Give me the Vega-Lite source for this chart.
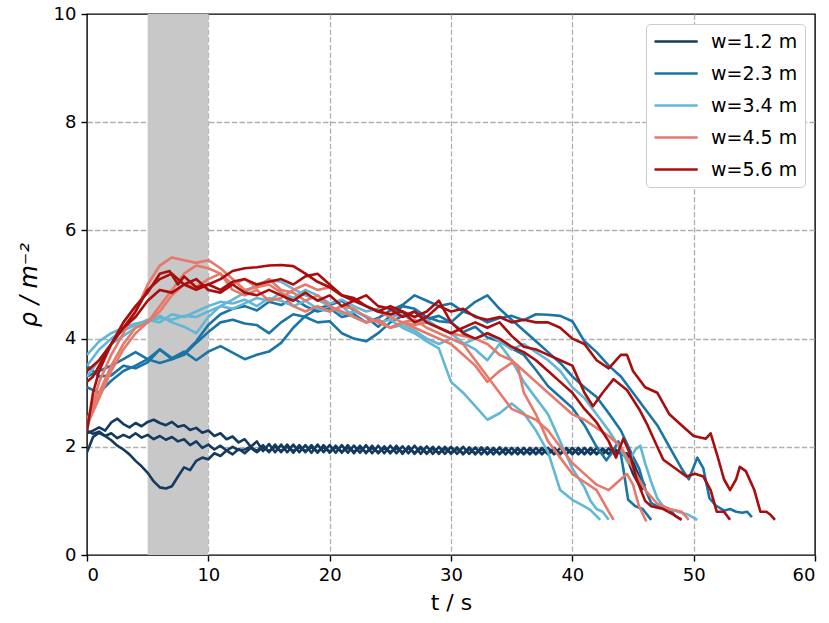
{
"$schema": "https://vega.github.io/schema/vega-lite/v6.json",
"width": 728, "height": 541,
"autosize": {"type": "none"},
"padding": {"left": 87, "top": 14, "right": 14, "bottom": 68},
"background": "white",
"config": {
 "view": {"stroke": "#000", "strokeWidth": 1.4},
 "axis": {"domain": false, "grid": true, "gridColor": "#b0b0b0", "gridDash": [5.3, 2.3], "gridWidth": 1.3, "tickColor": "#000", "tickSize": 6, "tickWidth": 1.4, "labelFont": "DejaVu Sans", "labelFontSize": 18, "labelColor": "#000", "labelPadding": 5, "titleFont": "DejaVu Sans", "titleFontSize": 22, "titleFontWeight": "normal", "titleColor": "#000"},
 "legend": {"labelFont": "DejaVu Sans"}
},
"datasets": {
 "band": [{"t0": 5, "t1": 10}],
 "runs": [
{"w":"w=1.2 m","run":"n1","t":0,"rho":2.25},{"w":"w=1.2 m","run":"n1","t":0.5,"rho":2.3},{"w":"w=1.2 m","run":"n1","t":1,"rho":2.36},{"w":"w=1.2 m","run":"n1","t":1.5,"rho":2.3},{"w":"w=1.2 m","run":"n1","t":2,"rho":2.45},{"w":"w=1.2 m","run":"n1","t":2.5,"rho":2.52},{"w":"w=1.2 m","run":"n1","t":3,"rho":2.42},{"w":"w=1.2 m","run":"n1","t":3.5,"rho":2.36},{"w":"w=1.2 m","run":"n1","t":4,"rho":2.44},{"w":"w=1.2 m","run":"n1","t":4.5,"rho":2.38},{"w":"w=1.2 m","run":"n1","t":5,"rho":2.46},{"w":"w=1.2 m","run":"n1","t":5.5,"rho":2.5},{"w":"w=1.2 m","run":"n1","t":6,"rho":2.44},{"w":"w=1.2 m","run":"n1","t":6.5,"rho":2.4},{"w":"w=1.2 m","run":"n1","t":7,"rho":2.46},{"w":"w=1.2 m","run":"n1","t":7.5,"rho":2.37},{"w":"w=1.2 m","run":"n1","t":8,"rho":2.4},{"w":"w=1.2 m","run":"n1","t":8.5,"rho":2.31},{"w":"w=1.2 m","run":"n1","t":9,"rho":2.35},{"w":"w=1.2 m","run":"n1","t":9.5,"rho":2.26},{"w":"w=1.2 m","run":"n1","t":10,"rho":2.3},{"w":"w=1.2 m","run":"n1","t":10.5,"rho":2.2},{"w":"w=1.2 m","run":"n1","t":11,"rho":2.25},{"w":"w=1.2 m","run":"n1","t":11.5,"rho":2.14},{"w":"w=1.2 m","run":"n1","t":12,"rho":2.19},{"w":"w=1.2 m","run":"n1","t":12.5,"rho":2.08},{"w":"w=1.2 m","run":"n1","t":13,"rho":2.14},{"w":"w=1.2 m","run":"n1","t":13.5,"rho":2.0},{"w":"w=1.2 m","run":"n1","t":14,"rho":2.1},{"w":"w=1.2 m","run":"n1","t":14.5,"rho":1.92},
{"w":"w=1.2 m","run":"n1","t":15,"rho":2.05},{"w":"w=1.2 m","run":"n1","t":15.5,"rho":1.9},{"w":"w=1.2 m","run":"n1","t":16,"rho":2.04},{"w":"w=1.2 m","run":"n1","t":16.5,"rho":1.9},{"w":"w=1.2 m","run":"n1","t":17,"rho":2.04},{"w":"w=1.2 m","run":"n1","t":17.5,"rho":1.9},{"w":"w=1.2 m","run":"n1","t":18,"rho":2.03},{"w":"w=1.2 m","run":"n1","t":18.5,"rho":1.89},{"w":"w=1.2 m","run":"n1","t":19,"rho":2.04},{"w":"w=1.2 m","run":"n1","t":19.5,"rho":1.9},{"w":"w=1.2 m","run":"n1","t":20,"rho":2.03},{"w":"w=1.2 m","run":"n1","t":20.5,"rho":1.89},{"w":"w=1.2 m","run":"n1","t":21,"rho":2.03},{"w":"w=1.2 m","run":"n1","t":21.5,"rho":1.89},{"w":"w=1.2 m","run":"n1","t":22,"rho":2.02},{"w":"w=1.2 m","run":"n1","t":22.5,"rho":1.89},{"w":"w=1.2 m","run":"n1","t":23,"rho":2.03},{"w":"w=1.2 m","run":"n1","t":23.5,"rho":1.88},{"w":"w=1.2 m","run":"n1","t":24,"rho":2.02},{"w":"w=1.2 m","run":"n1","t":24.5,"rho":1.88},{"w":"w=1.2 m","run":"n1","t":25,"rho":2.02},{"w":"w=1.2 m","run":"n1","t":25.5,"rho":1.88},{"w":"w=1.2 m","run":"n1","t":26,"rho":2.01},{"w":"w=1.2 m","run":"n1","t":26.5,"rho":1.88},{"w":"w=1.2 m","run":"n1","t":27,"rho":2.02},{"w":"w=1.2 m","run":"n1","t":27.5,"rho":1.87},{"w":"w=1.2 m","run":"n1","t":28,"rho":2.01},{"w":"w=1.2 m","run":"n1","t":28.5,"rho":1.87},{"w":"w=1.2 m","run":"n1","t":29,"rho":2.0},{"w":"w=1.2 m","run":"n1","t":29.5,"rho":1.87},{"w":"w=1.2 m","run":"n1","t":30,"rho":2.0},{"w":"w=1.2 m","run":"n1","t":30.5,"rho":1.87},{"w":"w=1.2 m","run":"n1","t":31,"rho":2.0},{"w":"w=1.2 m","run":"n1","t":31.5,"rho":1.87},{"w":"w=1.2 m","run":"n1","t":32,"rho":1.99},{"w":"w=1.2 m","run":"n1","t":32.5,"rho":1.86},{"w":"w=1.2 m","run":"n1","t":33,"rho":1.99},{"w":"w=1.2 m","run":"n1","t":33.5,"rho":1.86},{"w":"w=1.2 m","run":"n1","t":34,"rho":1.99},{"w":"w=1.2 m","run":"n1","t":34.5,"rho":1.86},{"w":"w=1.2 m","run":"n1","t":35,"rho":1.98},{"w":"w=1.2 m","run":"n1","t":35.5,"rho":1.86},{"w":"w=1.2 m","run":"n1","t":36,"rho":1.98},{"w":"w=1.2 m","run":"n1","t":36.5,"rho":1.86},{"w":"w=1.2 m","run":"n1","t":37,"rho":1.98},{"w":"w=1.2 m","run":"n1","t":37.5,"rho":1.86},{"w":"w=1.2 m","run":"n1","t":38,"rho":1.98},{"w":"w=1.2 m","run":"n1","t":38.5,"rho":1.86},{"w":"w=1.2 m","run":"n1","t":39,"rho":1.98},{"w":"w=1.2 m","run":"n1","t":39.5,"rho":1.86},{"w":"w=1.2 m","run":"n1","t":40,"rho":1.98},{"w":"w=1.2 m","run":"n1","t":40.5,"rho":1.86},{"w":"w=1.2 m","run":"n1","t":41,"rho":1.98},{"w":"w=1.2 m","run":"n1","t":41.5,"rho":1.86},{"w":"w=1.2 m","run":"n1","t":42,"rho":1.98},{"w":"w=1.2 m","run":"n1","t":42.5,"rho":1.86},{"w":"w=1.2 m","run":"n1","t":43,"rho":1.97},{"w":"w=1.2 m","run":"n1","t":43.5,"rho":1.86},{"w":"w=1.2 m","run":"n1","t":44,"rho":1.95},{"w":"w=1.2 m","run":"n1","t":44.5,"rho":1.82},{"w":"w=1.2 m","run":"n1","t":45,"rho":1.6},{"w":"w=1.2 m","run":"n1","t":45.5,"rho":1.38},{"w":"w=1.2 m","run":"n1","t":46,"rho":1.22},
{"w":"w=1.2 m","run":"n2","t":0,"rho":2.3},{"w":"w=1.2 m","run":"n2","t":0.5,"rho":2.24},{"w":"w=1.2 m","run":"n2","t":1,"rho":2.28},{"w":"w=1.2 m","run":"n2","t":1.5,"rho":2.2},{"w":"w=1.2 m","run":"n2","t":2,"rho":2.25},{"w":"w=1.2 m","run":"n2","t":2.5,"rho":2.16},{"w":"w=1.2 m","run":"n2","t":3,"rho":2.22},{"w":"w=1.2 m","run":"n2","t":3.5,"rho":2.17},{"w":"w=1.2 m","run":"n2","t":4,"rho":2.25},{"w":"w=1.2 m","run":"n2","t":4.5,"rho":2.17},{"w":"w=1.2 m","run":"n2","t":5,"rho":2.22},{"w":"w=1.2 m","run":"n2","t":5.5,"rho":2.14},{"w":"w=1.2 m","run":"n2","t":6,"rho":2.2},{"w":"w=1.2 m","run":"n2","t":6.5,"rho":2.13},{"w":"w=1.2 m","run":"n2","t":7,"rho":2.18},{"w":"w=1.2 m","run":"n2","t":7.5,"rho":2.1},{"w":"w=1.2 m","run":"n2","t":8,"rho":2.14},{"w":"w=1.2 m","run":"n2","t":8.5,"rho":2.03},{"w":"w=1.2 m","run":"n2","t":9,"rho":2.1},{"w":"w=1.2 m","run":"n2","t":9.5,"rho":1.98},{"w":"w=1.2 m","run":"n2","t":10,"rho":2.04},{"w":"w=1.2 m","run":"n2","t":10.5,"rho":1.95},{"w":"w=1.2 m","run":"n2","t":11,"rho":2.02},{"w":"w=1.2 m","run":"n2","t":11.5,"rho":1.93},{"w":"w=1.2 m","run":"n2","t":12,"rho":2.0},{"w":"w=1.2 m","run":"n2","t":12.5,"rho":1.94},{"w":"w=1.2 m","run":"n2","t":13,"rho":1.95},{"w":"w=1.2 m","run":"n2","t":13.5,"rho":2.0},{"w":"w=1.2 m","run":"n2","t":14,"rho":1.92},{"w":"w=1.2 m","run":"n2","t":14.5,"rho":2.03},
{"w":"w=1.2 m","run":"n2","t":15,"rho":1.9},{"w":"w=1.2 m","run":"n2","t":15.5,"rho":2.04},{"w":"w=1.2 m","run":"n2","t":16,"rho":1.9},{"w":"w=1.2 m","run":"n2","t":16.5,"rho":2.04},{"w":"w=1.2 m","run":"n2","t":17,"rho":1.89},{"w":"w=1.2 m","run":"n2","t":17.5,"rho":2.03},{"w":"w=1.2 m","run":"n2","t":18,"rho":1.9},{"w":"w=1.2 m","run":"n2","t":18.5,"rho":2.03},{"w":"w=1.2 m","run":"n2","t":19,"rho":1.89},{"w":"w=1.2 m","run":"n2","t":19.5,"rho":2.03},{"w":"w=1.2 m","run":"n2","t":20,"rho":1.89},{"w":"w=1.2 m","run":"n2","t":20.5,"rho":2.02},{"w":"w=1.2 m","run":"n2","t":21,"rho":1.89},{"w":"w=1.2 m","run":"n2","t":21.5,"rho":2.03},{"w":"w=1.2 m","run":"n2","t":22,"rho":1.88},{"w":"w=1.2 m","run":"n2","t":22.5,"rho":2.02},{"w":"w=1.2 m","run":"n2","t":23,"rho":1.88},{"w":"w=1.2 m","run":"n2","t":23.5,"rho":2.02},{"w":"w=1.2 m","run":"n2","t":24,"rho":1.88},{"w":"w=1.2 m","run":"n2","t":24.5,"rho":2.01},{"w":"w=1.2 m","run":"n2","t":25,"rho":1.88},{"w":"w=1.2 m","run":"n2","t":25.5,"rho":2.02},{"w":"w=1.2 m","run":"n2","t":26,"rho":1.87},{"w":"w=1.2 m","run":"n2","t":26.5,"rho":2.01},{"w":"w=1.2 m","run":"n2","t":27,"rho":1.87},{"w":"w=1.2 m","run":"n2","t":27.5,"rho":2.0},{"w":"w=1.2 m","run":"n2","t":28,"rho":1.87},{"w":"w=1.2 m","run":"n2","t":28.5,"rho":2.0},{"w":"w=1.2 m","run":"n2","t":29,"rho":1.87},{"w":"w=1.2 m","run":"n2","t":29.5,"rho":2.0},{"w":"w=1.2 m","run":"n2","t":30,"rho":1.87},{"w":"w=1.2 m","run":"n2","t":30.5,"rho":1.99},{"w":"w=1.2 m","run":"n2","t":31,"rho":1.86},{"w":"w=1.2 m","run":"n2","t":31.5,"rho":1.99},{"w":"w=1.2 m","run":"n2","t":32,"rho":1.86},{"w":"w=1.2 m","run":"n2","t":32.5,"rho":1.99},{"w":"w=1.2 m","run":"n2","t":33,"rho":1.86},{"w":"w=1.2 m","run":"n2","t":33.5,"rho":1.98},{"w":"w=1.2 m","run":"n2","t":34,"rho":1.86},{"w":"w=1.2 m","run":"n2","t":34.5,"rho":1.98},{"w":"w=1.2 m","run":"n2","t":35,"rho":1.86},{"w":"w=1.2 m","run":"n2","t":35.5,"rho":1.98},{"w":"w=1.2 m","run":"n2","t":36,"rho":1.86},{"w":"w=1.2 m","run":"n2","t":36.5,"rho":1.98},{"w":"w=1.2 m","run":"n2","t":37,"rho":1.86},{"w":"w=1.2 m","run":"n2","t":37.5,"rho":1.98},{"w":"w=1.2 m","run":"n2","t":38,"rho":1.86},{"w":"w=1.2 m","run":"n2","t":38.5,"rho":1.98},{"w":"w=1.2 m","run":"n2","t":39,"rho":1.86},{"w":"w=1.2 m","run":"n2","t":39.5,"rho":1.98},{"w":"w=1.2 m","run":"n2","t":40,"rho":1.86},{"w":"w=1.2 m","run":"n2","t":40.5,"rho":1.98},{"w":"w=1.2 m","run":"n2","t":41,"rho":1.86},{"w":"w=1.2 m","run":"n2","t":41.5,"rho":1.98},{"w":"w=1.2 m","run":"n2","t":42,"rho":1.86},{"w":"w=1.2 m","run":"n2","t":42.5,"rho":1.97},{"w":"w=1.2 m","run":"n2","t":43,"rho":1.86},{"w":"w=1.2 m","run":"n2","t":43.5,"rho":1.96},{"w":"w=1.2 m","run":"n2","t":44,"rho":1.87},{"w":"w=1.2 m","run":"n2","t":44.5,"rho":1.88},{"w":"w=1.2 m","run":"n2","t":45,"rho":1.72},{"w":"w=1.2 m","run":"n2","t":45.5,"rho":1.45},{"w":"w=1.2 m","run":"n2","t":46,"rho":1.28},
{"w":"w=1.2 m","run":"n3","t":0,"rho":1.9},{"w":"w=1.2 m","run":"n3","t":0.5,"rho":2.18},{"w":"w=1.2 m","run":"n3","t":1,"rho":2.26},{"w":"w=1.2 m","run":"n3","t":1.5,"rho":2.2},{"w":"w=1.2 m","run":"n3","t":2,"rho":2.12},{"w":"w=1.2 m","run":"n3","t":2.5,"rho":2.02},{"w":"w=1.2 m","run":"n3","t":3,"rho":1.95},{"w":"w=1.2 m","run":"n3","t":3.5,"rho":1.86},{"w":"w=1.2 m","run":"n3","t":4,"rho":1.74},{"w":"w=1.2 m","run":"n3","t":4.5,"rho":1.64},{"w":"w=1.2 m","run":"n3","t":5,"rho":1.52},{"w":"w=1.2 m","run":"n3","t":5.5,"rho":1.36},{"w":"w=1.2 m","run":"n3","t":6,"rho":1.25},{"w":"w=1.2 m","run":"n3","t":6.5,"rho":1.23},{"w":"w=1.2 m","run":"n3","t":7,"rho":1.27},{"w":"w=1.2 m","run":"n3","t":7.5,"rho":1.45},{"w":"w=1.2 m","run":"n3","t":8,"rho":1.62},{"w":"w=1.2 m","run":"n3","t":8.5,"rho":1.57},{"w":"w=1.2 m","run":"n3","t":9,"rho":1.74},{"w":"w=1.2 m","run":"n3","t":9.5,"rho":1.8},{"w":"w=1.2 m","run":"n3","t":10,"rho":1.77},{"w":"w=1.2 m","run":"n3","t":10.5,"rho":1.88},{"w":"w=1.2 m","run":"n3","t":11,"rho":1.83},{"w":"w=1.2 m","run":"n3","t":11.5,"rho":1.93},{"w":"w=1.2 m","run":"n3","t":12,"rho":1.86},{"w":"w=1.2 m","run":"n3","t":12.5,"rho":1.96},{"w":"w=1.2 m","run":"n3","t":13,"rho":1.88},{"w":"w=1.2 m","run":"n3","t":13.5,"rho":1.98},{"w":"w=1.2 m","run":"n3","t":14,"rho":1.9},{"w":"w=1.2 m","run":"n3","t":14.5,"rho":1.99},
{"w":"w=1.2 m","run":"n3","t":15,"rho":1.92},{"w":"w=1.2 m","run":"n3","t":15.5,"rho":2.0},{"w":"w=1.2 m","run":"n3","t":16,"rho":1.92},{"w":"w=1.2 m","run":"n3","t":16.5,"rho":2.0},{"w":"w=1.2 m","run":"n3","t":17,"rho":1.92},{"w":"w=1.2 m","run":"n3","t":17.5,"rho":1.99},{"w":"w=1.2 m","run":"n3","t":18,"rho":1.92},{"w":"w=1.2 m","run":"n3","t":18.5,"rho":1.99},{"w":"w=1.2 m","run":"n3","t":19,"rho":1.91},{"w":"w=1.2 m","run":"n3","t":19.5,"rho":1.99},{"w":"w=1.2 m","run":"n3","t":20,"rho":1.91},{"w":"w=1.2 m","run":"n3","t":20.5,"rho":1.99},{"w":"w=1.2 m","run":"n3","t":21,"rho":1.91},{"w":"w=1.2 m","run":"n3","t":21.5,"rho":1.98},{"w":"w=1.2 m","run":"n3","t":22,"rho":1.91},{"w":"w=1.2 m","run":"n3","t":22.5,"rho":1.98},{"w":"w=1.2 m","run":"n3","t":23,"rho":1.9},{"w":"w=1.2 m","run":"n3","t":23.5,"rho":1.98},{"w":"w=1.2 m","run":"n3","t":24,"rho":1.9},{"w":"w=1.2 m","run":"n3","t":24.5,"rho":1.97},{"w":"w=1.2 m","run":"n3","t":25,"rho":1.9},{"w":"w=1.2 m","run":"n3","t":25.5,"rho":1.97},{"w":"w=1.2 m","run":"n3","t":26,"rho":1.9},{"w":"w=1.2 m","run":"n3","t":26.5,"rho":1.97},{"w":"w=1.2 m","run":"n3","t":27,"rho":1.89},{"w":"w=1.2 m","run":"n3","t":27.5,"rho":1.97},{"w":"w=1.2 m","run":"n3","t":28,"rho":1.89},{"w":"w=1.2 m","run":"n3","t":28.5,"rho":1.96},{"w":"w=1.2 m","run":"n3","t":29,"rho":1.89},{"w":"w=1.2 m","run":"n3","t":29.5,"rho":1.96},{"w":"w=1.2 m","run":"n3","t":30,"rho":1.89},{"w":"w=1.2 m","run":"n3","t":30.5,"rho":1.96},{"w":"w=1.2 m","run":"n3","t":31,"rho":1.88},{"w":"w=1.2 m","run":"n3","t":31.5,"rho":1.96},{"w":"w=1.2 m","run":"n3","t":32,"rho":1.88},{"w":"w=1.2 m","run":"n3","t":32.5,"rho":1.96},{"w":"w=1.2 m","run":"n3","t":33,"rho":1.88},{"w":"w=1.2 m","run":"n3","t":33.5,"rho":1.95},{"w":"w=1.2 m","run":"n3","t":34,"rho":1.88},{"w":"w=1.2 m","run":"n3","t":34.5,"rho":1.95},{"w":"w=1.2 m","run":"n3","t":35,"rho":1.88},{"w":"w=1.2 m","run":"n3","t":35.5,"rho":1.95},{"w":"w=1.2 m","run":"n3","t":36,"rho":1.88},{"w":"w=1.2 m","run":"n3","t":36.5,"rho":1.95},{"w":"w=1.2 m","run":"n3","t":37,"rho":1.88},{"w":"w=1.2 m","run":"n3","t":37.5,"rho":1.95},{"w":"w=1.2 m","run":"n3","t":38,"rho":1.88},{"w":"w=1.2 m","run":"n3","t":38.5,"rho":1.95},{"w":"w=1.2 m","run":"n3","t":39,"rho":1.88},{"w":"w=1.2 m","run":"n3","t":39.5,"rho":1.95},{"w":"w=1.2 m","run":"n3","t":40,"rho":1.88},{"w":"w=1.2 m","run":"n3","t":40.5,"rho":1.95},{"w":"w=1.2 m","run":"n3","t":41,"rho":1.88},{"w":"w=1.2 m","run":"n3","t":41.5,"rho":1.95},{"w":"w=1.2 m","run":"n3","t":42,"rho":1.88},{"w":"w=1.2 m","run":"n3","t":42.5,"rho":1.94},{"w":"w=1.2 m","run":"n3","t":43,"rho":1.88},{"w":"w=1.2 m","run":"n3","t":43.5,"rho":1.94},{"w":"w=1.2 m","run":"n3","t":44,"rho":1.88},{"w":"w=1.2 m","run":"n3","t":44.5,"rho":1.8},{"w":"w=1.2 m","run":"n3","t":45,"rho":1.5},{"w":"w=1.2 m","run":"n3","t":45.5,"rho":1.3},{"w":"w=1.2 m","run":"n3","t":45.8,"rho":1.2},

{"w":"w=2.3 m","run":"b1","t":0,"rho":3.3},{"w":"w=2.3 m","run":"b1","t":1,"rho":3.4},{"w":"w=2.3 m","run":"b1","t":2,"rho":3.5},{"w":"w=2.3 m","run":"b1","t":3,"rho":3.62},{"w":"w=2.3 m","run":"b1","t":4,"rho":3.75},{"w":"w=2.3 m","run":"b1","t":5,"rho":3.62},{"w":"w=2.3 m","run":"b1","t":6,"rho":3.8},{"w":"w=2.3 m","run":"b1","t":7,"rho":3.62},{"w":"w=2.3 m","run":"b1","t":8,"rho":3.72},{"w":"w=2.3 m","run":"b1","t":9,"rho":3.95},{"w":"w=2.3 m","run":"b1","t":10,"rho":4.25},{"w":"w=2.3 m","run":"b1","t":11,"rho":4.45},{"w":"w=2.3 m","run":"b1","t":12,"rho":4.55},{"w":"w=2.3 m","run":"b1","t":13,"rho":4.6},{"w":"w=2.3 m","run":"b1","t":14,"rho":4.52},{"w":"w=2.3 m","run":"b1","t":15,"rho":4.68},{"w":"w=2.3 m","run":"b1","t":16,"rho":4.62},{"w":"w=2.3 m","run":"b1","t":17,"rho":4.75},{"w":"w=2.3 m","run":"b1","t":18,"rho":4.6},{"w":"w=2.3 m","run":"b1","t":19,"rho":4.5},{"w":"w=2.3 m","run":"b1","t":20,"rho":4.56},{"w":"w=2.3 m","run":"b1","t":21,"rho":4.4},{"w":"w=2.3 m","run":"b1","t":22,"rho":4.45},{"w":"w=2.3 m","run":"b1","t":23,"rho":4.3},{"w":"w=2.3 m","run":"b1","t":24,"rho":4.38},{"w":"w=2.3 m","run":"b1","t":25,"rho":4.52},{"w":"w=2.3 m","run":"b1","t":26,"rho":4.62},{"w":"w=2.3 m","run":"b1","t":27,"rho":4.8},{"w":"w=2.3 m","run":"b1","t":28,"rho":4.7},{"w":"w=2.3 m","run":"b1","t":29,"rho":4.6},{"w":"w=2.3 m","run":"b1","t":30,"rho":4.65},{"w":"w=2.3 m","run":"b1","t":31,"rho":4.5},{"w":"w=2.3 m","run":"b1","t":32,"rho":4.42},{"w":"w=2.3 m","run":"b1","t":33,"rho":4.3},{"w":"w=2.3 m","run":"b1","t":34,"rho":4.38},{"w":"w=2.3 m","run":"b1","t":35,"rho":4.42},{"w":"w=2.3 m","run":"b1","t":36,"rho":4.34},{"w":"w=2.3 m","run":"b1","t":37,"rho":4.45},{"w":"w=2.3 m","run":"b1","t":38,"rho":4.44},{"w":"w=2.3 m","run":"b1","t":39,"rho":4.42},{"w":"w=2.3 m","run":"b1","t":40,"rho":4.32},{"w":"w=2.3 m","run":"b1","t":41,"rho":3.95},{"w":"w=2.3 m","run":"b1","t":42,"rho":3.75},{"w":"w=2.3 m","run":"b1","t":43,"rho":3.5},{"w":"w=2.3 m","run":"b1","t":44,"rho":3.3},{"w":"w=2.3 m","run":"b1","t":45,"rho":3.0},{"w":"w=2.3 m","run":"b1","t":46,"rho":2.7},{"w":"w=2.3 m","run":"b1","t":47,"rho":2.4},{"w":"w=2.3 m","run":"b1","t":48,"rho":2.0},{"w":"w=2.3 m","run":"b1","t":49,"rho":1.6},{"w":"w=2.3 m","run":"b1","t":49.6,"rho":1.4},{"w":"w=2.3 m","run":"b1","t":50.3,"rho":1.8},{"w":"w=2.3 m","run":"b1","t":50.8,"rho":1.6},{"w":"w=2.3 m","run":"b1","t":51.3,"rho":1.05},{"w":"w=2.3 m","run":"b1","t":51.8,"rho":0.92},{"w":"w=2.3 m","run":"b1","t":52.5,"rho":0.82},{"w":"w=2.3 m","run":"b1","t":53,"rho":0.85},{"w":"w=2.3 m","run":"b1","t":53.5,"rho":0.8},{"w":"w=2.3 m","run":"b1","t":54,"rho":0.78},{"w":"w=2.3 m","run":"b1","t":54.4,"rho":0.8},{"w":"w=2.3 m","run":"b1","t":54.8,"rho":0.7},
{"w":"w=2.3 m","run":"b2","t":0,"rho":3.5},{"w":"w=2.3 m","run":"b2","t":1,"rho":3.3},{"w":"w=2.3 m","run":"b2","t":2,"rho":3.32},{"w":"w=2.3 m","run":"b2","t":3,"rho":3.5},{"w":"w=2.3 m","run":"b2","t":4,"rho":3.45},{"w":"w=2.3 m","run":"b2","t":5,"rho":3.56},{"w":"w=2.3 m","run":"b2","t":6,"rho":3.8},{"w":"w=2.3 m","run":"b2","t":7,"rho":3.64},{"w":"w=2.3 m","run":"b2","t":8,"rho":3.76},{"w":"w=2.3 m","run":"b2","t":9,"rho":3.6},{"w":"w=2.3 m","run":"b2","t":10,"rho":3.76},{"w":"w=2.3 m","run":"b2","t":11,"rho":3.86},{"w":"w=2.3 m","run":"b2","t":12,"rho":3.74},{"w":"w=2.3 m","run":"b2","t":13,"rho":3.62},{"w":"w=2.3 m","run":"b2","t":14,"rho":3.7},{"w":"w=2.3 m","run":"b2","t":15,"rho":3.76},{"w":"w=2.3 m","run":"b2","t":16,"rho":3.92},{"w":"w=2.3 m","run":"b2","t":17,"rho":4.2},{"w":"w=2.3 m","run":"b2","t":18,"rho":4.42},{"w":"w=2.3 m","run":"b2","t":19,"rho":4.55},{"w":"w=2.3 m","run":"b2","t":20,"rho":4.62},{"w":"w=2.3 m","run":"b2","t":21,"rho":4.7},{"w":"w=2.3 m","run":"b2","t":22,"rho":4.52},{"w":"w=2.3 m","run":"b2","t":23,"rho":4.4},{"w":"w=2.3 m","run":"b2","t":24,"rho":4.22},{"w":"w=2.3 m","run":"b2","t":25,"rho":4.42},{"w":"w=2.3 m","run":"b2","t":26,"rho":4.6},{"w":"w=2.3 m","run":"b2","t":27,"rho":4.55},{"w":"w=2.3 m","run":"b2","t":28,"rho":4.4},{"w":"w=2.3 m","run":"b2","t":29,"rho":4.32},{"w":"w=2.3 m","run":"b2","t":30,"rho":4.3},{"w":"w=2.3 m","run":"b2","t":31,"rho":4.12},{"w":"w=2.3 m","run":"b2","t":32,"rho":4.22},{"w":"w=2.3 m","run":"b2","t":33,"rho":4.02},{"w":"w=2.3 m","run":"b2","t":34,"rho":3.95},{"w":"w=2.3 m","run":"b2","t":35,"rho":3.82},{"w":"w=2.3 m","run":"b2","t":36,"rho":3.7},{"w":"w=2.3 m","run":"b2","t":37,"rho":3.42},{"w":"w=2.3 m","run":"b2","t":38,"rho":3.12},{"w":"w=2.3 m","run":"b2","t":39,"rho":2.92},{"w":"w=2.3 m","run":"b2","t":40,"rho":2.72},{"w":"w=2.3 m","run":"b2","t":41,"rho":2.4},{"w":"w=2.3 m","run":"b2","t":42,"rho":2.0},{"w":"w=2.3 m","run":"b2","t":42.8,"rho":1.75},{"w":"w=2.3 m","run":"b2","t":43.3,"rho":1.9},{"w":"w=2.3 m","run":"b2","t":43.8,"rho":2.1},{"w":"w=2.3 m","run":"b2","t":44.2,"rho":1.6},{"w":"w=2.3 m","run":"b2","t":44.6,"rho":1.02},{"w":"w=2.3 m","run":"b2","t":45.2,"rho":0.9},{"w":"w=2.3 m","run":"b2","t":45.8,"rho":0.85},{"w":"w=2.3 m","run":"b2","t":46.5,"rho":0.65},
{"w":"w=2.3 m","run":"b3","t":0,"rho":3.1},{"w":"w=2.3 m","run":"b3","t":1,"rho":3.0},{"w":"w=2.3 m","run":"b3","t":2,"rho":3.22},{"w":"w=2.3 m","run":"b3","t":3,"rho":3.4},{"w":"w=2.3 m","run":"b3","t":4,"rho":3.5},{"w":"w=2.3 m","run":"b3","t":5,"rho":3.62},{"w":"w=2.3 m","run":"b3","t":6,"rho":3.55},{"w":"w=2.3 m","run":"b3","t":7,"rho":3.62},{"w":"w=2.3 m","run":"b3","t":8,"rho":3.7},{"w":"w=2.3 m","run":"b3","t":9,"rho":3.92},{"w":"w=2.3 m","run":"b3","t":10,"rho":4.12},{"w":"w=2.3 m","run":"b3","t":11,"rho":4.3},{"w":"w=2.3 m","run":"b3","t":12,"rho":4.35},{"w":"w=2.3 m","run":"b3","t":13,"rho":4.28},{"w":"w=2.3 m","run":"b3","t":14,"rho":4.25},{"w":"w=2.3 m","run":"b3","t":15,"rho":4.1},{"w":"w=2.3 m","run":"b3","t":16,"rho":4.3},{"w":"w=2.3 m","run":"b3","t":17,"rho":4.45},{"w":"w=2.3 m","run":"b3","t":18,"rho":4.4},{"w":"w=2.3 m","run":"b3","t":19,"rho":4.3},{"w":"w=2.3 m","run":"b3","t":20,"rho":4.32},{"w":"w=2.3 m","run":"b3","t":21,"rho":4.1},{"w":"w=2.3 m","run":"b3","t":22,"rho":4.0},{"w":"w=2.3 m","run":"b3","t":23,"rho":3.95},{"w":"w=2.3 m","run":"b3","t":24,"rho":4.1},{"w":"w=2.3 m","run":"b3","t":25,"rho":4.3},{"w":"w=2.3 m","run":"b3","t":26,"rho":4.42},{"w":"w=2.3 m","run":"b3","t":27,"rho":4.5},{"w":"w=2.3 m","run":"b3","t":28,"rho":4.36},{"w":"w=2.3 m","run":"b3","t":29,"rho":4.42},{"w":"w=2.3 m","run":"b3","t":30,"rho":4.3},{"w":"w=2.3 m","run":"b3","t":31,"rho":4.5},{"w":"w=2.3 m","run":"b3","t":32,"rho":4.68},{"w":"w=2.3 m","run":"b3","t":33,"rho":4.8},{"w":"w=2.3 m","run":"b3","t":34,"rho":4.55},{"w":"w=2.3 m","run":"b3","t":35,"rho":4.35},{"w":"w=2.3 m","run":"b3","t":36,"rho":4.15},{"w":"w=2.3 m","run":"b3","t":37,"rho":3.95},{"w":"w=2.3 m","run":"b3","t":38,"rho":3.75},{"w":"w=2.3 m","run":"b3","t":39,"rho":3.55},{"w":"w=2.3 m","run":"b3","t":40,"rho":3.3},{"w":"w=2.3 m","run":"b3","t":41,"rho":3.1},{"w":"w=2.3 m","run":"b3","t":42,"rho":2.92},{"w":"w=2.3 m","run":"b3","t":43,"rho":2.62},{"w":"w=2.3 m","run":"b3","t":44,"rho":2.3},{"w":"w=2.3 m","run":"b3","t":45,"rho":1.82},{"w":"w=2.3 m","run":"b3","t":45.5,"rho":1.6},{"w":"w=2.3 m","run":"b3","t":46,"rho":1.22},{"w":"w=2.3 m","run":"b3","t":46.5,"rho":0.96},{"w":"w=2.3 m","run":"b3","t":47,"rho":0.9},{"w":"w=2.3 m","run":"b3","t":48,"rho":0.85},{"w":"w=2.3 m","run":"b3","t":48.5,"rho":0.72},{"w":"w=2.3 m","run":"b3","t":49,"rho":0.66},

{"w":"w=3.4 m","run":"l1","t":0,"rho":3.7},{"w":"w=3.4 m","run":"l1","t":1,"rho":3.95},{"w":"w=3.4 m","run":"l1","t":2,"rho":4.1},{"w":"w=3.4 m","run":"l1","t":3,"rho":4.2},{"w":"w=3.4 m","run":"l1","t":4,"rho":4.28},{"w":"w=3.4 m","run":"l1","t":5,"rho":4.32},{"w":"w=3.4 m","run":"l1","t":6,"rho":4.38},{"w":"w=3.4 m","run":"l1","t":7,"rho":4.35},{"w":"w=3.4 m","run":"l1","t":8,"rho":4.42},{"w":"w=3.4 m","run":"l1","t":9,"rho":4.4},{"w":"w=3.4 m","run":"l1","t":10,"rho":4.5},{"w":"w=3.4 m","run":"l1","t":11,"rho":4.6},{"w":"w=3.4 m","run":"l1","t":12,"rho":4.72},{"w":"w=3.4 m","run":"l1","t":13,"rho":4.85},{"w":"w=3.4 m","run":"l1","t":14,"rho":5.0},{"w":"w=3.4 m","run":"l1","t":15,"rho":5.08},{"w":"w=3.4 m","run":"l1","t":16,"rho":5.05},{"w":"w=3.4 m","run":"l1","t":17,"rho":4.92},{"w":"w=3.4 m","run":"l1","t":18,"rho":4.8},{"w":"w=3.4 m","run":"l1","t":19,"rho":4.72},{"w":"w=3.4 m","run":"l1","t":20,"rho":4.6},{"w":"w=3.4 m","run":"l1","t":21,"rho":4.45},{"w":"w=3.4 m","run":"l1","t":22,"rho":4.5},{"w":"w=3.4 m","run":"l1","t":23,"rho":4.42},{"w":"w=3.4 m","run":"l1","t":24,"rho":4.3},{"w":"w=3.4 m","run":"l1","t":25,"rho":4.35},{"w":"w=3.4 m","run":"l1","t":26,"rho":4.2},{"w":"w=3.4 m","run":"l1","t":27,"rho":4.1},{"w":"w=3.4 m","run":"l1","t":28,"rho":3.95},{"w":"w=3.4 m","run":"l1","t":29,"rho":3.82},{"w":"w=3.4 m","run":"l1","t":30,"rho":3.2},{"w":"w=3.4 m","run":"l1","t":31,"rho":3.0},{"w":"w=3.4 m","run":"l1","t":32,"rho":2.75},{"w":"w=3.4 m","run":"l1","t":33,"rho":2.5},{"w":"w=3.4 m","run":"l1","t":34,"rho":2.62},{"w":"w=3.4 m","run":"l1","t":35,"rho":2.8},{"w":"w=3.4 m","run":"l1","t":36,"rho":2.62},{"w":"w=3.4 m","run":"l1","t":37,"rho":2.3},{"w":"w=3.4 m","run":"l1","t":38,"rho":1.9},{"w":"w=3.4 m","run":"l1","t":39,"rho":1.2},{"w":"w=3.4 m","run":"l1","t":40,"rho":1.02},{"w":"w=3.4 m","run":"l1","t":41,"rho":0.9},{"w":"w=3.4 m","run":"l1","t":41.5,"rho":0.83},{"w":"w=3.4 m","run":"l1","t":42.3,"rho":0.65},
{"w":"w=3.4 m","run":"l2","t":0,"rho":3.3},{"w":"w=3.4 m","run":"l2","t":1,"rho":3.6},{"w":"w=3.4 m","run":"l2","t":2,"rho":3.9},{"w":"w=3.4 m","run":"l2","t":3,"rho":4.05},{"w":"w=3.4 m","run":"l2","t":4,"rho":4.2},{"w":"w=3.4 m","run":"l2","t":5,"rho":4.3},{"w":"w=3.4 m","run":"l2","t":6,"rho":4.42},{"w":"w=3.4 m","run":"l2","t":7,"rho":4.3},{"w":"w=3.4 m","run":"l2","t":8,"rho":4.22},{"w":"w=3.4 m","run":"l2","t":9,"rho":4.1},{"w":"w=3.4 m","run":"l2","t":10,"rho":4.4},{"w":"w=3.4 m","run":"l2","t":11,"rho":4.6},{"w":"w=3.4 m","run":"l2","t":12,"rho":4.55},{"w":"w=3.4 m","run":"l2","t":13,"rho":4.65},{"w":"w=3.4 m","run":"l2","t":14,"rho":4.75},{"w":"w=3.4 m","run":"l2","t":15,"rho":4.7},{"w":"w=3.4 m","run":"l2","t":16,"rho":4.85},{"w":"w=3.4 m","run":"l2","t":17,"rho":4.75},{"w":"w=3.4 m","run":"l2","t":18,"rho":4.9},{"w":"w=3.4 m","run":"l2","t":19,"rho":4.8},{"w":"w=3.4 m","run":"l2","t":20,"rho":4.65},{"w":"w=3.4 m","run":"l2","t":21,"rho":4.72},{"w":"w=3.4 m","run":"l2","t":22,"rho":4.6},{"w":"w=3.4 m","run":"l2","t":23,"rho":4.5},{"w":"w=3.4 m","run":"l2","t":24,"rho":4.55},{"w":"w=3.4 m","run":"l2","t":25,"rho":4.4},{"w":"w=3.4 m","run":"l2","t":26,"rho":4.45},{"w":"w=3.4 m","run":"l2","t":27,"rho":4.3},{"w":"w=3.4 m","run":"l2","t":28,"rho":4.35},{"w":"w=3.4 m","run":"l2","t":29,"rho":4.2},{"w":"w=3.4 m","run":"l2","t":30,"rho":4.1},{"w":"w=3.4 m","run":"l2","t":31,"rho":3.92},{"w":"w=3.4 m","run":"l2","t":32,"rho":3.8},{"w":"w=3.4 m","run":"l2","t":33,"rho":3.6},{"w":"w=3.4 m","run":"l2","t":34,"rho":3.9},{"w":"w=3.4 m","run":"l2","t":35,"rho":3.6},{"w":"w=3.4 m","run":"l2","t":36,"rho":3.2},{"w":"w=3.4 m","run":"l2","t":37,"rho":2.9},{"w":"w=3.4 m","run":"l2","t":38,"rho":2.6},{"w":"w=3.4 m","run":"l2","t":39,"rho":2.1},{"w":"w=3.4 m","run":"l2","t":40,"rho":1.6},{"w":"w=3.4 m","run":"l2","t":41,"rho":1.25},{"w":"w=3.4 m","run":"l2","t":41.5,"rho":1.0},{"w":"w=3.4 m","run":"l2","t":42,"rho":0.85},{"w":"w=3.4 m","run":"l2","t":42.5,"rho":0.8},{"w":"w=3.4 m","run":"l2","t":43,"rho":0.65},
{"w":"w=3.4 m","run":"l3","t":0,"rho":3.5},{"w":"w=3.4 m","run":"l3","t":1,"rho":3.8},{"w":"w=3.4 m","run":"l3","t":2,"rho":4.0},{"w":"w=3.4 m","run":"l3","t":3,"rho":4.15},{"w":"w=3.4 m","run":"l3","t":4,"rho":4.25},{"w":"w=3.4 m","run":"l3","t":5,"rho":4.35},{"w":"w=3.4 m","run":"l3","t":6,"rho":4.3},{"w":"w=3.4 m","run":"l3","t":7,"rho":4.45},{"w":"w=3.4 m","run":"l3","t":8,"rho":4.4},{"w":"w=3.4 m","run":"l3","t":9,"rho":4.5},{"w":"w=3.4 m","run":"l3","t":10,"rho":4.6},{"w":"w=3.4 m","run":"l3","t":11,"rho":4.68},{"w":"w=3.4 m","run":"l3","t":12,"rho":4.65},{"w":"w=3.4 m","run":"l3","t":13,"rho":4.72},{"w":"w=3.4 m","run":"l3","t":14,"rho":4.6},{"w":"w=3.4 m","run":"l3","t":15,"rho":4.75},{"w":"w=3.4 m","run":"l3","t":16,"rho":4.7},{"w":"w=3.4 m","run":"l3","t":17,"rho":4.6},{"w":"w=3.4 m","run":"l3","t":18,"rho":4.7},{"w":"w=3.4 m","run":"l3","t":19,"rho":4.55},{"w":"w=3.4 m","run":"l3","t":20,"rho":4.5},{"w":"w=3.4 m","run":"l3","t":21,"rho":4.6},{"w":"w=3.4 m","run":"l3","t":22,"rho":4.4},{"w":"w=3.4 m","run":"l3","t":23,"rho":4.3},{"w":"w=3.4 m","run":"l3","t":24,"rho":4.35},{"w":"w=3.4 m","run":"l3","t":25,"rho":4.2},{"w":"w=3.4 m","run":"l3","t":26,"rho":4.25},{"w":"w=3.4 m","run":"l3","t":27,"rho":4.15},{"w":"w=3.4 m","run":"l3","t":28,"rho":4.0},{"w":"w=3.4 m","run":"l3","t":29,"rho":3.9},{"w":"w=3.4 m","run":"l3","t":30,"rho":4.0},{"w":"w=3.4 m","run":"l3","t":31,"rho":3.9},{"w":"w=3.4 m","run":"l3","t":32,"rho":4.0},{"w":"w=3.4 m","run":"l3","t":33,"rho":4.1},{"w":"w=3.4 m","run":"l3","t":34,"rho":3.95},{"w":"w=3.4 m","run":"l3","t":35,"rho":3.8},{"w":"w=3.4 m","run":"l3","t":36,"rho":3.9},{"w":"w=3.4 m","run":"l3","t":37,"rho":3.75},{"w":"w=3.4 m","run":"l3","t":38,"rho":3.6},{"w":"w=3.4 m","run":"l3","t":39,"rho":3.4},{"w":"w=3.4 m","run":"l3","t":40,"rho":3.1},{"w":"w=3.4 m","run":"l3","t":41,"rho":2.9},{"w":"w=3.4 m","run":"l3","t":42,"rho":2.6},{"w":"w=3.4 m","run":"l3","t":43,"rho":2.3},{"w":"w=3.4 m","run":"l3","t":44,"rho":1.95},{"w":"w=3.4 m","run":"l3","t":44.6,"rho":1.7},{"w":"w=3.4 m","run":"l3","t":45.2,"rho":1.95},{"w":"w=3.4 m","run":"l3","t":45.6,"rho":2.02},{"w":"w=3.4 m","run":"l3","t":46,"rho":1.7},{"w":"w=3.4 m","run":"l3","t":46.5,"rho":1.35},{"w":"w=3.4 m","run":"l3","t":47,"rho":1.05},{"w":"w=3.4 m","run":"l3","t":47.5,"rho":0.9},{"w":"w=3.4 m","run":"l3","t":48,"rho":0.85},{"w":"w=3.4 m","run":"l3","t":49,"rho":0.78},{"w":"w=3.4 m","run":"l3","t":49.5,"rho":0.75},{"w":"w=3.4 m","run":"l3","t":50.3,"rho":0.65},

{"w":"w=4.5 m","run":"s1","t":0,"rho":2.3},{"w":"w=4.5 m","run":"s1","t":0.5,"rho":2.8},{"w":"w=4.5 m","run":"s1","t":1,"rho":3.2},{"w":"w=4.5 m","run":"s1","t":2,"rho":3.7},{"w":"w=4.5 m","run":"s1","t":3,"rho":4.1},{"w":"w=4.5 m","run":"s1","t":4,"rho":4.5},{"w":"w=4.5 m","run":"s1","t":5,"rho":5.0},{"w":"w=4.5 m","run":"s1","t":6,"rho":5.35},{"w":"w=4.5 m","run":"s1","t":7,"rho":5.5},{"w":"w=4.5 m","run":"s1","t":8,"rho":5.45},{"w":"w=4.5 m","run":"s1","t":9,"rho":5.4},{"w":"w=4.5 m","run":"s1","t":10,"rho":5.45},{"w":"w=4.5 m","run":"s1","t":11,"rho":5.3},{"w":"w=4.5 m","run":"s1","t":12,"rho":5.1},{"w":"w=4.5 m","run":"s1","t":13,"rho":4.9},{"w":"w=4.5 m","run":"s1","t":14,"rho":4.95},{"w":"w=4.5 m","run":"s1","t":15,"rho":5.1},{"w":"w=4.5 m","run":"s1","t":16,"rho":4.9},{"w":"w=4.5 m","run":"s1","t":17,"rho":4.85},{"w":"w=4.5 m","run":"s1","t":18,"rho":4.7},{"w":"w=4.5 m","run":"s1","t":19,"rho":4.8},{"w":"w=4.5 m","run":"s1","t":20,"rho":4.6},{"w":"w=4.5 m","run":"s1","t":21,"rho":4.5},{"w":"w=4.5 m","run":"s1","t":22,"rho":4.4},{"w":"w=4.5 m","run":"s1","t":23,"rho":4.3},{"w":"w=4.5 m","run":"s1","t":24,"rho":4.35},{"w":"w=4.5 m","run":"s1","t":25,"rho":4.2},{"w":"w=4.5 m","run":"s1","t":26,"rho":4.3},{"w":"w=4.5 m","run":"s1","t":27,"rho":4.2},{"w":"w=4.5 m","run":"s1","t":28,"rho":4.1},{"w":"w=4.5 m","run":"s1","t":29,"rho":4.0},{"w":"w=4.5 m","run":"s1","t":30,"rho":3.9},{"w":"w=4.5 m","run":"s1","t":31,"rho":3.7},{"w":"w=4.5 m","run":"s1","t":32,"rho":3.5},{"w":"w=4.5 m","run":"s1","t":33,"rho":3.2},{"w":"w=4.5 m","run":"s1","t":34,"rho":3.4},{"w":"w=4.5 m","run":"s1","t":35,"rho":3.55},{"w":"w=4.5 m","run":"s1","t":35.5,"rho":3.5},{"w":"w=4.5 m","run":"s1","t":36,"rho":3.0},{"w":"w=4.5 m","run":"s1","t":37,"rho":2.6},{"w":"w=4.5 m","run":"s1","t":38,"rho":2.1},{"w":"w=4.5 m","run":"s1","t":39,"rho":1.8},{"w":"w=4.5 m","run":"s1","t":40,"rho":1.5},{"w":"w=4.5 m","run":"s1","t":41,"rho":1.35},{"w":"w=4.5 m","run":"s1","t":42,"rho":1.2},{"w":"w=4.5 m","run":"s1","t":42.5,"rho":1.0},{"w":"w=4.5 m","run":"s1","t":43,"rho":0.8},{"w":"w=4.5 m","run":"s1","t":43.4,"rho":0.65},
{"w":"w=4.5 m","run":"s2","t":0,"rho":2.5},{"w":"w=4.5 m","run":"s2","t":1,"rho":3.0},{"w":"w=4.5 m","run":"s2","t":2,"rho":3.5},{"w":"w=4.5 m","run":"s2","t":3,"rho":3.9},{"w":"w=4.5 m","run":"s2","t":4,"rho":4.2},{"w":"w=4.5 m","run":"s2","t":5,"rho":4.3},{"w":"w=4.5 m","run":"s2","t":6,"rho":4.6},{"w":"w=4.5 m","run":"s2","t":7,"rho":4.9},{"w":"w=4.5 m","run":"s2","t":8,"rho":5.2},{"w":"w=4.5 m","run":"s2","t":9,"rho":5.35},{"w":"w=4.5 m","run":"s2","t":10,"rho":5.3},{"w":"w=4.5 m","run":"s2","t":11,"rho":5.2},{"w":"w=4.5 m","run":"s2","t":12,"rho":4.9},{"w":"w=4.5 m","run":"s2","t":13,"rho":4.8},{"w":"w=4.5 m","run":"s2","t":14,"rho":4.9},{"w":"w=4.5 m","run":"s2","t":15,"rho":4.7},{"w":"w=4.5 m","run":"s2","t":16,"rho":4.75},{"w":"w=4.5 m","run":"s2","t":17,"rho":4.9},{"w":"w=4.5 m","run":"s2","t":18,"rho":5.0},{"w":"w=4.5 m","run":"s2","t":19,"rho":4.9},{"w":"w=4.5 m","run":"s2","t":20,"rho":4.95},{"w":"w=4.5 m","run":"s2","t":21,"rho":4.8},{"w":"w=4.5 m","run":"s2","t":22,"rho":4.7},{"w":"w=4.5 m","run":"s2","t":23,"rho":4.6},{"w":"w=4.5 m","run":"s2","t":24,"rho":4.5},{"w":"w=4.5 m","run":"s2","t":25,"rho":4.4},{"w":"w=4.5 m","run":"s2","t":26,"rho":4.3},{"w":"w=4.5 m","run":"s2","t":27,"rho":4.35},{"w":"w=4.5 m","run":"s2","t":28,"rho":4.2},{"w":"w=4.5 m","run":"s2","t":29,"rho":4.1},{"w":"w=4.5 m","run":"s2","t":30,"rho":4.0},{"w":"w=4.5 m","run":"s2","t":31,"rho":3.9},{"w":"w=4.5 m","run":"s2","t":32,"rho":3.6},{"w":"w=4.5 m","run":"s2","t":33,"rho":3.3},{"w":"w=4.5 m","run":"s2","t":34,"rho":3.0},{"w":"w=4.5 m","run":"s2","t":35,"rho":2.7},{"w":"w=4.5 m","run":"s2","t":36,"rho":2.6},{"w":"w=4.5 m","run":"s2","t":37,"rho":2.5},{"w":"w=4.5 m","run":"s2","t":38,"rho":2.3},{"w":"w=4.5 m","run":"s2","t":39,"rho":2.0},{"w":"w=4.5 m","run":"s2","t":40,"rho":1.7},{"w":"w=4.5 m","run":"s2","t":41,"rho":1.5},{"w":"w=4.5 m","run":"s2","t":42,"rho":1.3},{"w":"w=4.5 m","run":"s2","t":43,"rho":1.2},{"w":"w=4.5 m","run":"s2","t":44,"rho":1.4},{"w":"w=4.5 m","run":"s2","t":44.5,"rho":1.5},{"w":"w=4.5 m","run":"s2","t":45,"rho":1.3},{"w":"w=4.5 m","run":"s2","t":45.5,"rho":0.9},{"w":"w=4.5 m","run":"s2","t":46.1,"rho":0.62},
{"w":"w=4.5 m","run":"s3","t":0,"rho":2.4},{"w":"w=4.5 m","run":"s3","t":1,"rho":2.9},{"w":"w=4.5 m","run":"s3","t":2,"rho":3.4},{"w":"w=4.5 m","run":"s3","t":3,"rho":3.8},{"w":"w=4.5 m","run":"s3","t":4,"rho":4.1},{"w":"w=4.5 m","run":"s3","t":5,"rho":4.3},{"w":"w=4.5 m","run":"s3","t":6,"rho":4.5},{"w":"w=4.5 m","run":"s3","t":7,"rho":4.8},{"w":"w=4.5 m","run":"s3","t":8,"rho":5.0},{"w":"w=4.5 m","run":"s3","t":9,"rho":4.95},{"w":"w=4.5 m","run":"s3","t":10,"rho":5.1},{"w":"w=4.5 m","run":"s3","t":11,"rho":5.2},{"w":"w=4.5 m","run":"s3","t":12,"rho":5.0},{"w":"w=4.5 m","run":"s3","t":13,"rho":5.1},{"w":"w=4.5 m","run":"s3","t":14,"rho":4.95},{"w":"w=4.5 m","run":"s3","t":15,"rho":5.0},{"w":"w=4.5 m","run":"s3","t":16,"rho":4.85},{"w":"w=4.5 m","run":"s3","t":17,"rho":4.6},{"w":"w=4.5 m","run":"s3","t":18,"rho":4.5},{"w":"w=4.5 m","run":"s3","t":19,"rho":4.6},{"w":"w=4.5 m","run":"s3","t":20,"rho":4.5},{"w":"w=4.5 m","run":"s3","t":21,"rho":4.6},{"w":"w=4.5 m","run":"s3","t":22,"rho":4.55},{"w":"w=4.5 m","run":"s3","t":23,"rho":4.4},{"w":"w=4.5 m","run":"s3","t":24,"rho":4.3},{"w":"w=4.5 m","run":"s3","t":25,"rho":4.2},{"w":"w=4.5 m","run":"s3","t":26,"rho":4.3},{"w":"w=4.5 m","run":"s3","t":27,"rho":4.25},{"w":"w=4.5 m","run":"s3","t":28,"rho":4.3},{"w":"w=4.5 m","run":"s3","t":29,"rho":4.2},{"w":"w=4.5 m","run":"s3","t":30,"rho":4.1},{"w":"w=4.5 m","run":"s3","t":31,"rho":4.05},{"w":"w=4.5 m","run":"s3","t":32,"rho":4.0},{"w":"w=4.5 m","run":"s3","t":33,"rho":3.9},{"w":"w=4.5 m","run":"s3","t":34,"rho":3.7},{"w":"w=4.5 m","run":"s3","t":35,"rho":3.6},{"w":"w=4.5 m","run":"s3","t":36,"rho":3.4},{"w":"w=4.5 m","run":"s3","t":37,"rho":3.2},{"w":"w=4.5 m","run":"s3","t":38,"rho":3.0},{"w":"w=4.5 m","run":"s3","t":39,"rho":2.8},{"w":"w=4.5 m","run":"s3","t":40,"rho":2.6},{"w":"w=4.5 m","run":"s3","t":41,"rho":2.5},{"w":"w=4.5 m","run":"s3","t":42,"rho":2.35},{"w":"w=4.5 m","run":"s3","t":43,"rho":2.2},{"w":"w=4.5 m","run":"s3","t":44,"rho":2.0},{"w":"w=4.5 m","run":"s3","t":45,"rho":1.6},{"w":"w=4.5 m","run":"s3","t":46,"rho":1.2},{"w":"w=4.5 m","run":"s3","t":47,"rho":0.95},{"w":"w=4.5 m","run":"s3","t":48,"rho":0.85},{"w":"w=4.5 m","run":"s3","t":49,"rho":0.8},{"w":"w=4.5 m","run":"s3","t":49.6,"rho":0.65},

{"w":"w=5.6 m","run":"r1","t":0,"rho":3.2},{"w":"w=5.6 m","run":"r1","t":0.5,"rho":3.3},{"w":"w=5.6 m","run":"r1","t":1,"rho":3.5},{"w":"w=5.6 m","run":"r1","t":2,"rho":3.9},{"w":"w=5.6 m","run":"r1","t":3,"rho":4.2},{"w":"w=5.6 m","run":"r1","t":4,"rho":4.4},{"w":"w=5.6 m","run":"r1","t":5,"rho":4.7},{"w":"w=5.6 m","run":"r1","t":6,"rho":4.9},{"w":"w=5.6 m","run":"r1","t":7,"rho":4.85},{"w":"w=5.6 m","run":"r1","t":8,"rho":5.0},{"w":"w=5.6 m","run":"r1","t":9,"rho":4.9},{"w":"w=5.6 m","run":"r1","t":10,"rho":5.0},{"w":"w=5.6 m","run":"r1","t":11,"rho":5.1},{"w":"w=5.6 m","run":"r1","t":12,"rho":5.25},{"w":"w=5.6 m","run":"r1","t":13,"rho":5.3},{"w":"w=5.6 m","run":"r1","t":14,"rho":5.32},{"w":"w=5.6 m","run":"r1","t":15,"rho":5.35},{"w":"w=5.6 m","run":"r1","t":16,"rho":5.36},{"w":"w=5.6 m","run":"r1","t":17,"rho":5.34},{"w":"w=5.6 m","run":"r1","t":18,"rho":5.2},{"w":"w=5.6 m","run":"r1","t":19,"rho":5.05},{"w":"w=5.6 m","run":"r1","t":20,"rho":4.95},{"w":"w=5.6 m","run":"r1","t":21,"rho":4.8},{"w":"w=5.6 m","run":"r1","t":22,"rho":4.75},{"w":"w=5.6 m","run":"r1","t":23,"rho":4.6},{"w":"w=5.6 m","run":"r1","t":24,"rho":4.5},{"w":"w=5.6 m","run":"r1","t":25,"rho":4.45},{"w":"w=5.6 m","run":"r1","t":26,"rho":4.5},{"w":"w=5.6 m","run":"r1","t":27,"rho":4.3},{"w":"w=5.6 m","run":"r1","t":28,"rho":4.4},{"w":"w=5.6 m","run":"r1","t":29,"rho":4.6},{"w":"w=5.6 m","run":"r1","t":30,"rho":4.5},{"w":"w=5.6 m","run":"r1","t":31,"rho":4.55},{"w":"w=5.6 m","run":"r1","t":32,"rho":4.4},{"w":"w=5.6 m","run":"r1","t":33,"rho":4.35},{"w":"w=5.6 m","run":"r1","t":34,"rho":4.4},{"w":"w=5.6 m","run":"r1","t":35,"rho":4.3},{"w":"w=5.6 m","run":"r1","t":36,"rho":4.35},{"w":"w=5.6 m","run":"r1","t":37,"rho":4.3},{"w":"w=5.6 m","run":"r1","t":38,"rho":4.3},{"w":"w=5.6 m","run":"r1","t":39,"rho":4.2},{"w":"w=5.6 m","run":"r1","t":40,"rho":4.0},{"w":"w=5.6 m","run":"r1","t":41,"rho":3.9},{"w":"w=5.6 m","run":"r1","t":42,"rho":3.6},{"w":"w=5.6 m","run":"r1","t":43,"rho":3.45},{"w":"w=5.6 m","run":"r1","t":44,"rho":3.7},{"w":"w=5.6 m","run":"r1","t":44.5,"rho":3.7},{"w":"w=5.6 m","run":"r1","t":45,"rho":3.4},{"w":"w=5.6 m","run":"r1","t":46,"rho":3.1},{"w":"w=5.6 m","run":"r1","t":47,"rho":3.0},{"w":"w=5.6 m","run":"r1","t":48,"rho":2.6},{"w":"w=5.6 m","run":"r1","t":49,"rho":2.4},{"w":"w=5.6 m","run":"r1","t":50,"rho":2.2},{"w":"w=5.6 m","run":"r1","t":51,"rho":2.15},{"w":"w=5.6 m","run":"r1","t":51.4,"rho":2.25},{"w":"w=5.6 m","run":"r1","t":52,"rho":1.8},{"w":"w=5.6 m","run":"r1","t":52.5,"rho":1.4},{"w":"w=5.6 m","run":"r1","t":53,"rho":1.2},{"w":"w=5.6 m","run":"r1","t":53.5,"rho":1.4},{"w":"w=5.6 m","run":"r1","t":53.8,"rho":1.63},{"w":"w=5.6 m","run":"r1","t":54.3,"rho":1.55},{"w":"w=5.6 m","run":"r1","t":55,"rho":1.2},{"w":"w=5.6 m","run":"r1","t":55.5,"rho":0.8},{"w":"w=5.6 m","run":"r1","t":56,"rho":0.8},{"w":"w=5.6 m","run":"r1","t":56.3,"rho":0.75},{"w":"w=5.6 m","run":"r1","t":56.7,"rho":0.65},
{"w":"w=5.6 m","run":"r2","t":0,"rho":2.3},{"w":"w=5.6 m","run":"r2","t":0.5,"rho":3.0},{"w":"w=5.6 m","run":"r2","t":1,"rho":3.4},{"w":"w=5.6 m","run":"r2","t":2,"rho":3.9},{"w":"w=5.6 m","run":"r2","t":3,"rho":4.3},{"w":"w=5.6 m","run":"r2","t":4,"rho":4.6},{"w":"w=5.6 m","run":"r2","t":5,"rho":4.85},{"w":"w=5.6 m","run":"r2","t":6,"rho":5.2},{"w":"w=5.6 m","run":"r2","t":6.8,"rho":5.25},{"w":"w=5.6 m","run":"r2","t":7.5,"rho":5.0},{"w":"w=5.6 m","run":"r2","t":8,"rho":5.15},{"w":"w=5.6 m","run":"r2","t":9,"rho":4.95},{"w":"w=5.6 m","run":"r2","t":10,"rho":5.0},{"w":"w=5.6 m","run":"r2","t":11,"rho":4.9},{"w":"w=5.6 m","run":"r2","t":12,"rho":5.05},{"w":"w=5.6 m","run":"r2","t":13,"rho":5.1},{"w":"w=5.6 m","run":"r2","t":14,"rho":5.0},{"w":"w=5.6 m","run":"r2","t":15,"rho":5.05},{"w":"w=5.6 m","run":"r2","t":16,"rho":5.1},{"w":"w=5.6 m","run":"r2","t":17,"rho":5.0},{"w":"w=5.6 m","run":"r2","t":18,"rho":5.15},{"w":"w=5.6 m","run":"r2","t":19,"rho":5.2},{"w":"w=5.6 m","run":"r2","t":20,"rho":5.0},{"w":"w=5.6 m","run":"r2","t":21,"rho":4.8},{"w":"w=5.6 m","run":"r2","t":22,"rho":4.7},{"w":"w=5.6 m","run":"r2","t":23,"rho":4.8},{"w":"w=5.6 m","run":"r2","t":24,"rho":4.6},{"w":"w=5.6 m","run":"r2","t":25,"rho":4.55},{"w":"w=5.6 m","run":"r2","t":26,"rho":4.4},{"w":"w=5.6 m","run":"r2","t":27,"rho":4.5},{"w":"w=5.6 m","run":"r2","t":28,"rho":4.3},{"w":"w=5.6 m","run":"r2","t":29,"rho":4.2},{"w":"w=5.6 m","run":"r2","t":30,"rho":4.1},{"w":"w=5.6 m","run":"r2","t":31,"rho":4.2},{"w":"w=5.6 m","run":"r2","t":32,"rho":4.3},{"w":"w=5.6 m","run":"r2","t":33,"rho":4.2},{"w":"w=5.6 m","run":"r2","t":34,"rho":4.3},{"w":"w=5.6 m","run":"r2","t":35,"rho":4.05},{"w":"w=5.6 m","run":"r2","t":36,"rho":3.85},{"w":"w=5.6 m","run":"r2","t":37,"rho":3.8},{"w":"w=5.6 m","run":"r2","t":38,"rho":3.7},{"w":"w=5.6 m","run":"r2","t":39,"rho":3.6},{"w":"w=5.6 m","run":"r2","t":40,"rho":3.5},{"w":"w=5.6 m","run":"r2","t":41,"rho":3.0},{"w":"w=5.6 m","run":"r2","t":41.7,"rho":2.75},{"w":"w=5.6 m","run":"r2","t":42.5,"rho":3.0},{"w":"w=5.6 m","run":"r2","t":43.4,"rho":3.25},{"w":"w=5.6 m","run":"r2","t":44.5,"rho":3.05},{"w":"w=5.6 m","run":"r2","t":45.5,"rho":2.7},{"w":"w=5.6 m","run":"r2","t":46.2,"rho":2.4},{"w":"w=5.6 m","run":"r2","t":47,"rho":2.0},{"w":"w=5.6 m","run":"r2","t":47.5,"rho":1.76},{"w":"w=5.6 m","run":"r2","t":48.5,"rho":1.6},{"w":"w=5.6 m","run":"r2","t":49.4,"rho":1.45},{"w":"w=5.6 m","run":"r2","t":50.1,"rho":1.5},{"w":"w=5.6 m","run":"r2","t":50.8,"rho":1.45},{"w":"w=5.6 m","run":"r2","t":51.4,"rho":1.2},{"w":"w=5.6 m","run":"r2","t":51.9,"rho":0.8},{"w":"w=5.6 m","run":"r2","t":52.5,"rho":0.8},{"w":"w=5.6 m","run":"r2","t":53,"rho":0.65},
{"w":"w=5.6 m","run":"r3","t":0,"rho":3.4},{"w":"w=5.6 m","run":"r3","t":1,"rho":3.6},{"w":"w=5.6 m","run":"r3","t":2,"rho":3.9},{"w":"w=5.6 m","run":"r3","t":3,"rho":4.2},{"w":"w=5.6 m","run":"r3","t":4,"rho":4.5},{"w":"w=5.6 m","run":"r3","t":5,"rho":4.9},{"w":"w=5.6 m","run":"r3","t":6,"rho":5.1},{"w":"w=5.6 m","run":"r3","t":7,"rho":5.2},{"w":"w=5.6 m","run":"r3","t":8,"rho":5.0},{"w":"w=5.6 m","run":"r3","t":9,"rho":5.1},{"w":"w=5.6 m","run":"r3","t":10,"rho":4.9},{"w":"w=5.6 m","run":"r3","t":11,"rho":4.85},{"w":"w=5.6 m","run":"r3","t":12,"rho":5.0},{"w":"w=5.6 m","run":"r3","t":13,"rho":4.85},{"w":"w=5.6 m","run":"r3","t":14,"rho":4.8},{"w":"w=5.6 m","run":"r3","t":15,"rho":4.9},{"w":"w=5.6 m","run":"r3","t":16,"rho":4.8},{"w":"w=5.6 m","run":"r3","t":17,"rho":4.7},{"w":"w=5.6 m","run":"r3","t":18,"rho":4.85},{"w":"w=5.6 m","run":"r3","t":19,"rho":4.7},{"w":"w=5.6 m","run":"r3","t":20,"rho":4.8},{"w":"w=5.6 m","run":"r3","t":21,"rho":4.6},{"w":"w=5.6 m","run":"r3","t":22,"rho":4.7},{"w":"w=5.6 m","run":"r3","t":23,"rho":4.6},{"w":"w=5.6 m","run":"r3","t":24,"rho":4.5},{"w":"w=5.6 m","run":"r3","t":25,"rho":4.6},{"w":"w=5.6 m","run":"r3","t":26,"rho":4.5},{"w":"w=5.6 m","run":"r3","t":27,"rho":4.4},{"w":"w=5.6 m","run":"r3","t":28,"rho":4.5},{"w":"w=5.6 m","run":"r3","t":29,"rho":4.7},{"w":"w=5.6 m","run":"r3","t":30,"rho":4.3},{"w":"w=5.6 m","run":"r3","t":31,"rho":4.1},{"w":"w=5.6 m","run":"r3","t":32,"rho":4.0},{"w":"w=5.6 m","run":"r3","t":33,"rho":4.1},{"w":"w=5.6 m","run":"r3","t":34,"rho":4.0},{"w":"w=5.6 m","run":"r3","t":35,"rho":3.85},{"w":"w=5.6 m","run":"r3","t":36,"rho":3.75},{"w":"w=5.6 m","run":"r3","t":37,"rho":3.6},{"w":"w=5.6 m","run":"r3","t":38,"rho":3.4},{"w":"w=5.6 m","run":"r3","t":39,"rho":3.2},{"w":"w=5.6 m","run":"r3","t":40,"rho":3.0},{"w":"w=5.6 m","run":"r3","t":41,"rho":2.7},{"w":"w=5.6 m","run":"r3","t":42,"rho":2.45},{"w":"w=5.6 m","run":"r3","t":43,"rho":2.1},{"w":"w=5.6 m","run":"r3","t":43.6,"rho":1.8},{"w":"w=5.6 m","run":"r3","t":44.2,"rho":2.15},{"w":"w=5.6 m","run":"r3","t":44.7,"rho":1.9},{"w":"w=5.6 m","run":"r3","t":45.3,"rho":1.4},{"w":"w=5.6 m","run":"r3","t":46,"rho":1.0},{"w":"w=5.6 m","run":"r3","t":46.5,"rho":0.9},{"w":"w=5.6 m","run":"r3","t":47.5,"rho":0.85},{"w":"w=5.6 m","run":"r3","t":48.3,"rho":0.75},{"w":"w=5.6 m","run":"r3","t":49,"rho":0.65}
 ]
},
"layer": [
 {
  "data": {"name": "band"},
  "mark": {"type": "rect", "color": "#c8c8c8"},
  "encoding": {
   "x": {"field": "t0", "type": "quantitative", "scale": {"domain": [0, 60], "nice": false}, "axis": {"title": "t / s", "values": [0, 10, 20, 30, 40, 50, 60], "titlePadding": 8, "gridOpacity": {"condition": {"test": "datum.value === 0 || datum.value === 60", "value": 0}, "value": 1}}},
   "x2": {"field": "t1"}
  }
 },
 {
  "data": {"name": "runs"},
  "mark": {"type": "line", "strokeWidth": 2.6, "strokeJoin": "round", "clip": true},
  "encoding": {
   "x": {"field": "t", "type": "quantitative", "scale": {"domain": [0, 60], "nice": false}, "axis": {"title": "t / s", "values": [0, 10, 20, 30, 40, 50, 60], "titlePadding": 8, "gridOpacity": {"condition": {"test": "datum.value === 0 || datum.value === 60", "value": 0}, "value": 1}}},
   "y": {"field": "rho", "type": "quantitative", "scale": {"domain": [0, 10], "nice": false}, "axis": {"title": "ρ / m⁻²", "titleFontStyle": "italic", "titleFontSize": 24, "values": [0, 2, 4, 6, 8, 10], "titlePadding": 12, "gridOpacity": {"condition": {"test": "datum.value === 0 || datum.value === 10", "value": 0}, "value": 1}}},
   "detail": {"field": "run"},
   "order": {"field": "t", "type": "quantitative"},
   "color": {"field": "w", "type": "nominal",
     "scale": {"domain": ["w=1.2 m", "w=2.3 m", "w=3.4 m", "w=4.5 m", "w=5.6 m"], "range": ["#143b5f", "#1a75a6", "#62b7d4", "#e6796a", "#a90d0d"]},
     "legend": {"title": null, "orient": "top-right", "offset": 10, "symbolType": "M-1,0L3.8,0", "symbolStrokeWidth": 2.7, "symbolSize": 324, "labelFontSize": 19, "labelOffset": 37, "rowPadding": 11, "padding": 7, "strokeColor": "#cccccc", "fillColor": "white", "cornerRadius": 4, "labelColor": "#000"}
   }
  }
 }
]
}
